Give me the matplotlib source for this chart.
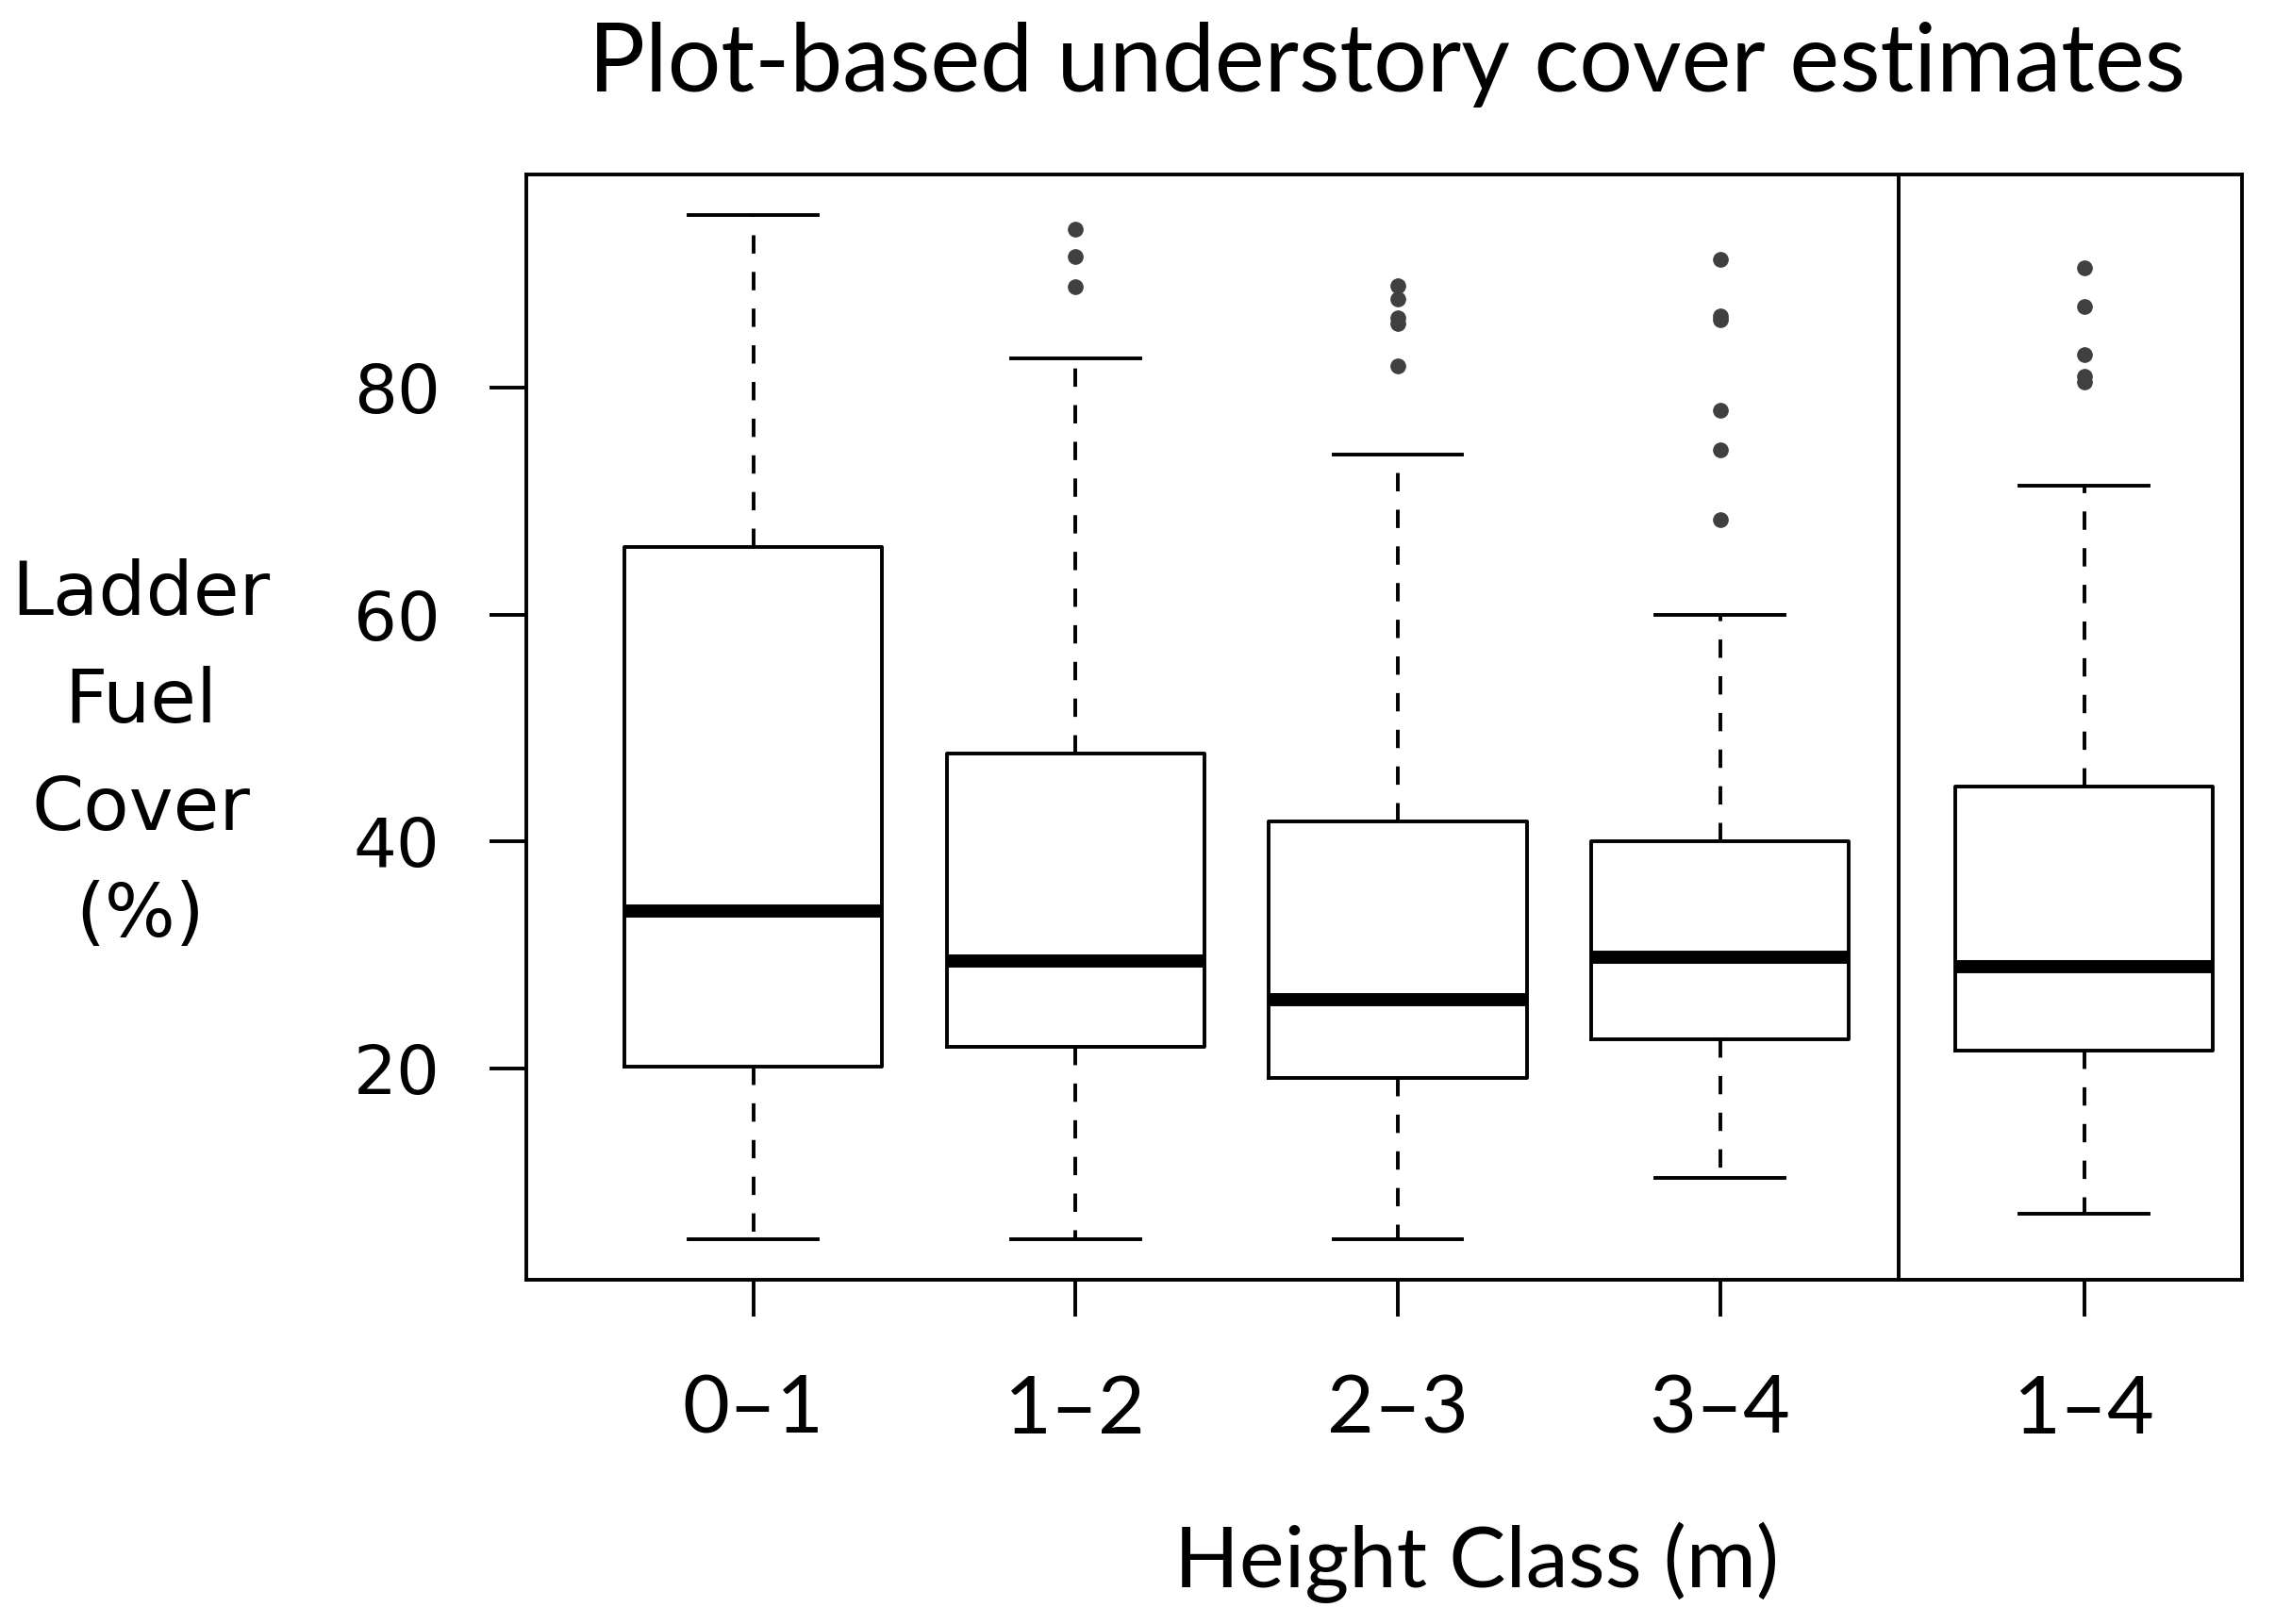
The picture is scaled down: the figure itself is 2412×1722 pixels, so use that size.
import matplotlib
matplotlib.use("Agg")
import matplotlib.pyplot as plt

# box statistics (percent cover)
classes = ["0\u20131", "1\u20132", "2\u20133", "3\u20134", "1\u20134"]
positions = [1, 2, 3, 4, 5.13]
whislo = [5.0, 5.0, 5.0, 10.4, 7.2]
q1 = [20.2, 21.9, 19.2, 22.6, 21.6]
med = [33.9, 29.5, 26.1, 29.8, 29.0]
q3 = [66.0, 47.8, 41.8, 40.0, 44.9]
whishi = [95.2, 82.6, 74.1, 60.0, 71.4]
fliers = [
    [],
    [94.0, 91.6, 88.9],
    [89.0, 87.8, 86.2, 85.7, 81.9],
    [91.3, 86.3, 86.0, 78.0, 74.5, 68.4],
    [90.6, 87.2, 82.9, 81.0, 80.5],
]

stats = []
for i in range(len(classes)):
    stats.append(dict(whislo=whislo[i], q1=q1[i], med=med[i], q3=q3[i],
                      whishi=whishi[i], fliers=fliers[i], label=classes[i]))

fig = plt.figure(figsize=(24.12, 17.22), dpi=100)
ax = fig.add_axes([0.2315, 0.212, 0.754, 0.6806])

lw = 2.8
ax.bxp(stats, positions=positions, widths=0.8, patch_artist=False,
       boxprops=dict(color="black", linewidth=lw),
       medianprops=dict(color="black", linewidth=10, solid_capstyle="butt"),
       whiskerprops=dict(color="black", linewidth=lw, linestyle=(0, (5, 5))),
       capprops=dict(color="black", linewidth=lw),
       capwidths=0.4,
       flierprops=dict(marker="o", markersize=11, markerfacecolor="#404040",
                       markeredgecolor="#404040"))

ax.axvline(4.554, color="black", linewidth=lw)

ax.set_xlim(0.297, 5.62)
ax.set_ylim(1.4, 98.8)
ax.set_yticks([20, 40, 60, 80])
ax.set_yticklabels(["20", "40", "60", "80"], fontsize=52, family="DejaVu Sans")
ax.set_xticks(positions)
ax.set_xticklabels(classes, fontsize=62, family="Lato")
ax.tick_params(axis="y", length=28, width=lw, pad=38)
ax.tick_params(axis="x", length=28, width=lw, pad=44)
for s in ax.spines.values():
    s.set_linewidth(lw)

fig.text(0.6095, 0.96, "Plot-based understory cover estimates", ha="center",
         va="center", fontsize=72, family="Lato")
fig.text(0.649, 0.0377, "Height Class (m)", ha="center", va="center",
         fontsize=65, family="Lato")
fig.text(0.0618, 0.535, "Ladder\nFuel\nCover\n(%)", ha="center", va="center",
         fontsize=57, family="DejaVu Sans", linespacing=1.63)

fig.savefig("out.png", dpi=100)
